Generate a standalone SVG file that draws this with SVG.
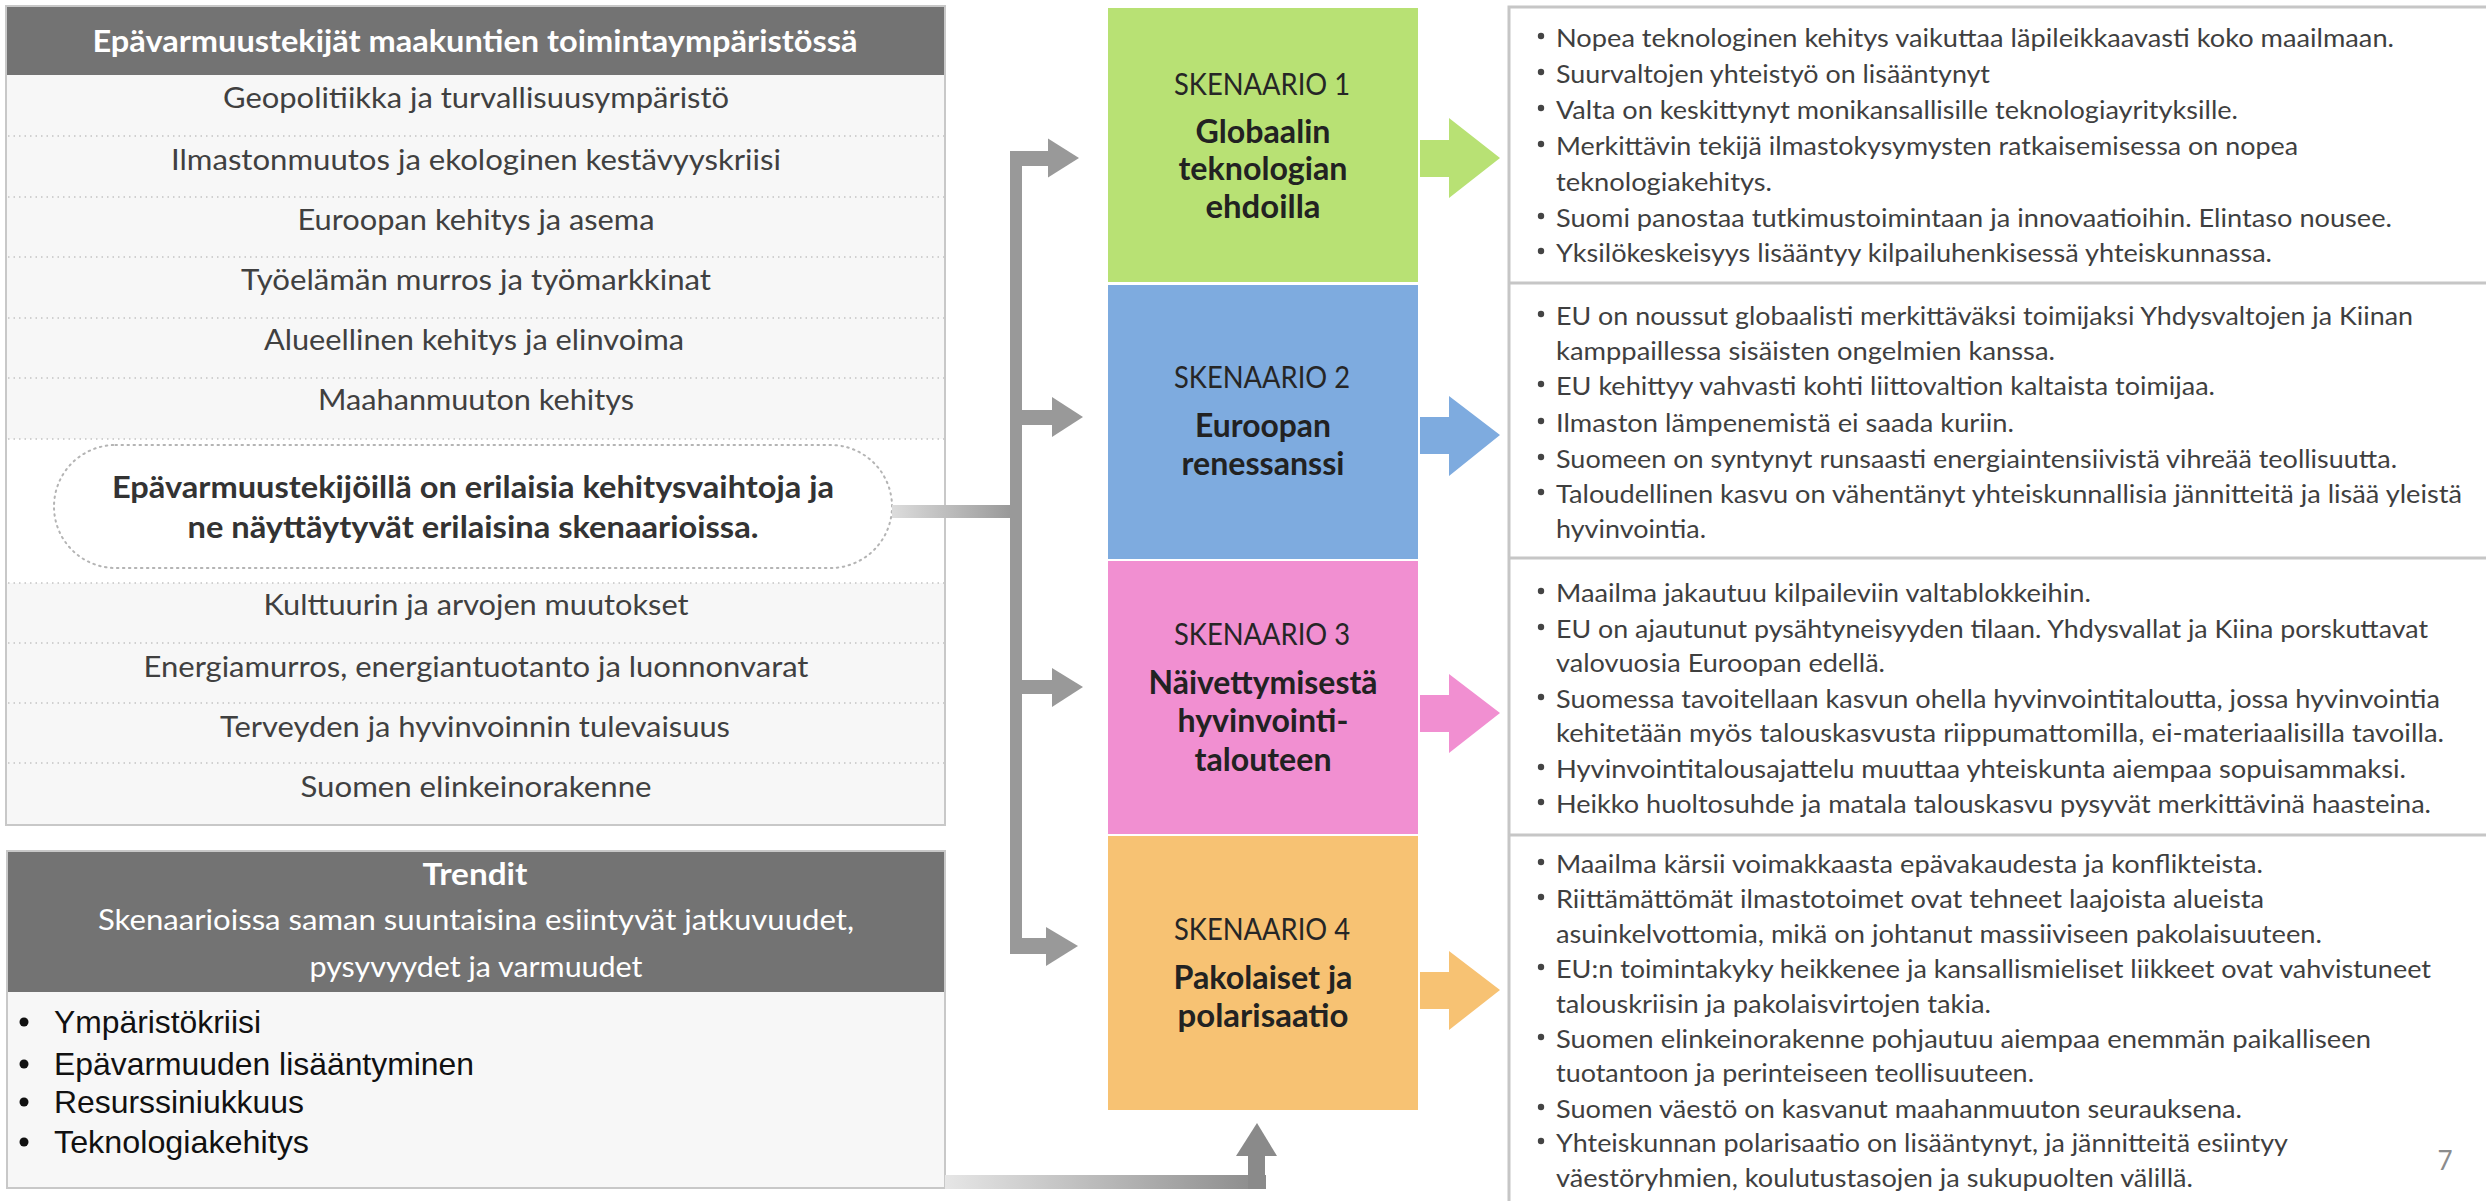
<svg xmlns="http://www.w3.org/2000/svg" width="2486" height="1201" viewBox="0 0 2486 1201">
<defs>
<linearGradient id="gPill" x1="0" y1="0" x2="1" y2="0"><stop offset="0" stop-color="#dcdcdc"/><stop offset="1" stop-color="#999999"/></linearGradient>
<linearGradient id="gTrend" x1="0" y1="0" x2="1" y2="0"><stop offset="0" stop-color="#e6e6e6"/><stop offset="1" stop-color="#8a8a8a"/></linearGradient>
<style>
.row{font-family:Lato,"Liberation Sans",sans-serif;font-size:28.5px;fill:#404040;text-anchor:middle}
.hdr{font-family:Lato,"Liberation Sans",sans-serif;font-size:30px;font-weight:bold;fill:#ffffff;text-anchor:middle}
.sub{font-family:Lato,"Liberation Sans",sans-serif;font-size:28.5px;fill:#ffffff;text-anchor:middle}
.pill{font-family:Lato,"Liberation Sans",sans-serif;font-size:30px;font-weight:bold;fill:#333333;text-anchor:middle}
.trend{font-family:"Liberation Sans",Arial,sans-serif;font-size:32px;fill:#111111}
.sk{font-family:Lato,"Liberation Sans",sans-serif;font-size:30px;fill:#262626;text-anchor:middle}
.skt{font-family:Lato,"Liberation Sans",sans-serif;font-size:33px;font-weight:bold;fill:#222222;text-anchor:middle}
.bl{font-family:Lato,"Liberation Sans",sans-serif;font-size:25.5px;fill:#3f3f3f}
.dot{stroke:#c4c4c4;stroke-width:1.5;stroke-dasharray:1.5 4}
.sep{stroke:#c6c6c6;stroke-width:3;fill:none}
.gray{fill:#999999}
.b{fill:#444444}
</style>
</defs>
<rect x="0" y="0" width="2486" height="1201" fill="#ffffff"/>

<g id="factors">
<rect x="6" y="6" width="939" height="819" fill="#f7f7f7" stroke="#c8c8c8" stroke-width="2"/>
<rect x="7" y="7" width="937" height="68" fill="#737373"/>
<text class="hdr" x="475" y="52" textLength="765" lengthAdjust="spacingAndGlyphs">Epävarmuustekijät maakuntien toimintaympäristössä</text>
<rect x="7" y="439" width="937" height="144" fill="#ffffff"/>
<line class="dot" x1="8" y1="136" x2="944" y2="136"/>
<line class="dot" x1="8" y1="197" x2="944" y2="197"/>
<line class="dot" x1="8" y1="257" x2="944" y2="257"/>
<line class="dot" x1="8" y1="318" x2="944" y2="318"/>
<line class="dot" x1="8" y1="378" x2="944" y2="378"/>
<line class="dot" x1="8" y1="439" x2="944" y2="439"/>
<line class="dot" x1="8" y1="583" x2="944" y2="583"/>
<line class="dot" x1="8" y1="643" x2="944" y2="643"/>
<line class="dot" x1="8" y1="703" x2="944" y2="703"/>
<line class="dot" x1="8" y1="763" x2="944" y2="763"/>
<text class="row" x="476" y="108" textLength="506" lengthAdjust="spacingAndGlyphs">Geopolitiikka ja turvallisuusympäristö</text>
<text class="row" x="476" y="170" textLength="610" lengthAdjust="spacingAndGlyphs">Ilmastonmuutos ja ekologinen kestävyyskriisi</text>
<text class="row" x="476" y="230" textLength="357" lengthAdjust="spacingAndGlyphs">Euroopan kehitys ja asema</text>
<text class="row" x="476" y="290" textLength="470" lengthAdjust="spacingAndGlyphs">Työelämän murros ja työmarkkinat</text>
<text class="row" x="474" y="350" textLength="420" lengthAdjust="spacingAndGlyphs">Alueellinen kehitys ja elinvoima</text>
<text class="row" x="476" y="410" textLength="316" lengthAdjust="spacingAndGlyphs">Maahanmuuton kehitys</text>
<text class="row" x="476" y="615" textLength="425" lengthAdjust="spacingAndGlyphs">Kulttuurin ja arvojen muutokset</text>
<text class="row" x="476" y="677" textLength="665" lengthAdjust="spacingAndGlyphs">Energiamurros, energiantuotanto ja luonnonvarat</text>
<text class="row" x="475" y="737" textLength="510" lengthAdjust="spacingAndGlyphs">Terveyden ja hyvinvoinnin tulevaisuus</text>
<text class="row" x="476" y="797" textLength="351" lengthAdjust="spacingAndGlyphs">Suomen elinkeinorakenne</text>
</g>

<g id="pill">
<rect x="54" y="445" width="838" height="123" rx="61.5" ry="61.5" fill="#ffffff" stroke="#b4b4b4" stroke-width="2" stroke-dasharray="1.5 4.5" stroke-linecap="round"/>
<text class="pill" x="473" y="498" textLength="722" lengthAdjust="spacingAndGlyphs">Epävarmuustekijöillä on erilaisia kehitysvaihtoja ja</text>
<text class="pill" x="473" y="538" textLength="571" lengthAdjust="spacingAndGlyphs">ne näyttäytyvät erilaisina skenaarioissa.</text>
</g>

<g id="trends">
<rect x="7" y="851" width="938" height="337" fill="#f7f7f7" stroke="#c8c8c8" stroke-width="2"/>
<rect x="8" y="852" width="936" height="140" fill="#737373"/>
<text class="hdr" x="475" y="885" textLength="105" lengthAdjust="spacingAndGlyphs">Trendit</text>
<text class="sub" x="476" y="930" textLength="756" lengthAdjust="spacingAndGlyphs">Skenaarioissa saman suuntaisina esiintyvät jatkuvuudet,</text>
<text class="sub" x="476" y="977" textLength="333" lengthAdjust="spacingAndGlyphs">pysyvyydet ja varmuudet</text>
<circle cx="24" cy="1022" r="4.5" fill="#111111"/>
<circle cx="24" cy="1064" r="4.5" fill="#111111"/>
<circle cx="24" cy="1102" r="4.5" fill="#111111"/>
<circle cx="24" cy="1142" r="4.5" fill="#111111"/>
<text class="trend" x="54" y="1033" textLength="207" lengthAdjust="spacingAndGlyphs">Ympäristökriisi</text>
<text class="trend" x="54" y="1075" textLength="420" lengthAdjust="spacingAndGlyphs">Epävarmuuden lisääntyminen</text>
<text class="trend" x="54" y="1113" textLength="250" lengthAdjust="spacingAndGlyphs">Resurssiniukkuus</text>
<text class="trend" x="54" y="1153" textLength="255" lengthAdjust="spacingAndGlyphs">Teknologiakehitys</text>
</g>

<g id="connectors">
<rect x="892" y="505" width="119" height="13" fill="url(#gPill)"/>
<rect class="gray" x="1010" y="151" width="12" height="803"/>
<rect class="gray" x="1010" y="151" width="39" height="15"/>
<polygon class="gray" points="1048,138.5 1079,158 1048,177.5"/>
<rect class="gray" x="1021" y="410" width="32" height="15"/>
<polygon class="gray" points="1052,397 1083,417 1052,437"/>
<rect class="gray" x="1021" y="680" width="32" height="14"/>
<polygon class="gray" points="1052,668 1083,687 1052,707"/>
<rect class="gray" x="1010" y="938" width="37" height="16"/>
<polygon class="gray" points="1046,927 1078,946 1046,966"/>
<rect x="945" y="1175" width="321" height="14" fill="url(#gTrend)"/>
<rect x="1248" y="1155" width="17" height="34" fill="#8a8a8a"/>
<polygon points="1236,1156 1257,1123 1277,1156" fill="#8a8a8a"/>
<polygon points="1420,140 1449,140 1449,118 1500,158 1449,198 1449,177 1420,177" fill="#b8e174"/>
<polygon points="1420,417 1449,417 1449,396 1500,435 1449,476 1449,454 1420,454" fill="#7eabdf"/>
<polygon points="1420,695 1449,695 1449,674 1500,713 1449,753 1449,732 1420,732" fill="#f18fd1"/>
<polygon points="1420,972 1449,972 1449,951 1500,990 1449,1030 1449,1009 1420,1009" fill="#f7c273"/>
</g>

<g id="scenario1">
<rect x="1108" y="8" width="310" height="274" fill="#b8e174"/>
<text class="sk" x="1262" y="95" textLength="176" lengthAdjust="spacingAndGlyphs">SKENAARIO 1</text>
<text class="skt" x="1263" y="143" textLength="135" lengthAdjust="spacingAndGlyphs">Globaalin</text>
<text class="skt" x="1263" y="180" textLength="169" lengthAdjust="spacingAndGlyphs">teknologian</text>
<text class="skt" x="1263" y="218" textLength="115" lengthAdjust="spacingAndGlyphs">ehdoilla</text>
</g>
<g id="scenario2">
<rect x="1108" y="285" width="310" height="274" fill="#7eabdf"/>
<text class="sk" x="1262" y="388" textLength="176" lengthAdjust="spacingAndGlyphs">SKENAARIO 2</text>
<text class="skt" x="1263" y="437" textLength="136" lengthAdjust="spacingAndGlyphs">Euroopan</text>
<text class="skt" x="1263" y="475" textLength="163" lengthAdjust="spacingAndGlyphs">renessanssi</text>
</g>
<g id="scenario3">
<rect x="1108" y="561" width="310" height="273" fill="#f18fd1"/>
<text class="sk" x="1262" y="645" textLength="176" lengthAdjust="spacingAndGlyphs">SKENAARIO 3</text>
<text class="skt" x="1263" y="694" textLength="229" lengthAdjust="spacingAndGlyphs">Näivettymisestä</text>
<text class="skt" x="1263" y="732" textLength="171" lengthAdjust="spacingAndGlyphs">hyvinvointi-</text>
<text class="skt" x="1263" y="771" textLength="137" lengthAdjust="spacingAndGlyphs">talouteen</text>
</g>
<g id="scenario4">
<rect x="1108" y="836" width="310" height="274" fill="#f7c273"/>
<text class="sk" x="1262" y="940" textLength="176" lengthAdjust="spacingAndGlyphs">SKENAARIO 4</text>
<text class="skt" x="1263" y="989" textLength="179" lengthAdjust="spacingAndGlyphs">Pakolaiset ja</text>
<text class="skt" x="1263" y="1027" textLength="171" lengthAdjust="spacingAndGlyphs">polarisaatio</text>
</g>

<g id="descriptions">
<path class="sep" d="M1509,1201 V7 H2486 M1509,283 H2486 M1509,558 H2486 M1509,835 H2486"/>
</g>

<g id="desc1">
<circle class="b" cx="1541" cy="36" r="3.2"/>
<circle class="b" cx="1541" cy="72" r="3.2"/>
<circle class="b" cx="1541" cy="108" r="3.2"/>
<circle class="b" cx="1541" cy="144" r="3.2"/>
<circle class="b" cx="1541" cy="216" r="3.2"/>
<circle class="b" cx="1541" cy="251" r="3.2"/>
<text class="bl" x="1556" y="47" textLength="838" lengthAdjust="spacingAndGlyphs">Nopea teknologinen kehitys vaikuttaa läpileikkaavasti koko maailmaan.</text>
<text class="bl" x="1556" y="83" textLength="434" lengthAdjust="spacingAndGlyphs">Suurvaltojen yhteistyö on lisääntynyt</text>
<text class="bl" x="1556" y="119" textLength="682" lengthAdjust="spacingAndGlyphs">Valta on keskittynyt monikansallisille teknologiayrityksille.</text>
<text class="bl" x="1556" y="155" textLength="742" lengthAdjust="spacingAndGlyphs">Merkittävin tekijä ilmastokysymysten ratkaisemisessa on nopea</text>
<text class="bl" x="1556" y="191" textLength="216" lengthAdjust="spacingAndGlyphs">teknologiakehitys.</text>
<text class="bl" x="1556" y="227" textLength="836" lengthAdjust="spacingAndGlyphs">Suomi panostaa tutkimustoimintaan ja innovaatioihin. Elintaso nousee.</text>
<text class="bl" x="1556" y="262" textLength="716" lengthAdjust="spacingAndGlyphs">Yksilökeskeisyys lisääntyy kilpailuhenkisessä yhteiskunnassa.</text>
</g>

<g id="desc2">
<circle class="b" cx="1541" cy="314" r="3.2"/>
<circle class="b" cx="1541" cy="384" r="3.2"/>
<circle class="b" cx="1541" cy="421" r="3.2"/>
<circle class="b" cx="1541" cy="457" r="3.2"/>
<circle class="b" cx="1541" cy="492" r="3.2"/>
<text class="bl" x="1556" y="325" textLength="857" lengthAdjust="spacingAndGlyphs">EU on noussut globaalisti merkittäväksi toimijaksi Yhdysvaltojen ja Kiinan</text>
<text class="bl" x="1556" y="360" textLength="499" lengthAdjust="spacingAndGlyphs">kamppaillessa sisäisten ongelmien kanssa.</text>
<text class="bl" x="1556" y="395" textLength="659" lengthAdjust="spacingAndGlyphs">EU kehittyy vahvasti kohti liittovaltion kaltaista toimijaa.</text>
<text class="bl" x="1556" y="432" textLength="458" lengthAdjust="spacingAndGlyphs">Ilmaston lämpenemistä ei saada kuriin.</text>
<text class="bl" x="1556" y="468" textLength="841" lengthAdjust="spacingAndGlyphs">Suomeen on syntynyt runsaasti energiaintensiivistä vihreää teollisuutta.</text>
<text class="bl" x="1556" y="503" textLength="906" lengthAdjust="spacingAndGlyphs">Taloudellinen kasvu on vähentänyt yhteiskunnallisia jännitteitä ja lisää yleistä</text>
<text class="bl" x="1556" y="538" textLength="150" lengthAdjust="spacingAndGlyphs">hyvinvointia.</text>
</g>

<g id="desc3">
<circle class="b" cx="1541" cy="591" r="3.2"/>
<circle class="b" cx="1541" cy="627" r="3.2"/>
<circle class="b" cx="1541" cy="697" r="3.2"/>
<circle class="b" cx="1541" cy="767" r="3.2"/>
<circle class="b" cx="1541" cy="802" r="3.2"/>
<text class="bl" x="1556" y="602" textLength="535" lengthAdjust="spacingAndGlyphs">Maailma jakautuu kilpaileviin valtablokkeihin.</text>
<text class="bl" x="1556" y="638" textLength="872" lengthAdjust="spacingAndGlyphs">EU on ajautunut pysähtyneisyyden tilaan. Yhdysvallat ja Kiina porskuttavat</text>
<text class="bl" x="1556" y="672" textLength="329" lengthAdjust="spacingAndGlyphs">valovuosia Euroopan edellä.</text>
<text class="bl" x="1556" y="708" textLength="884" lengthAdjust="spacingAndGlyphs">Suomessa tavoitellaan kasvun ohella hyvinvointitaloutta, jossa hyvinvointia</text>
<text class="bl" x="1556" y="742" textLength="888" lengthAdjust="spacingAndGlyphs">kehitetään myös talouskasvusta riippumattomilla, ei-materiaalisilla tavoilla.</text>
<text class="bl" x="1556" y="778" textLength="850" lengthAdjust="spacingAndGlyphs">Hyvinvointitalousajattelu muuttaa yhteiskunta aiempaa sopuisammaksi.</text>
<text class="bl" x="1556" y="813" textLength="875" lengthAdjust="spacingAndGlyphs">Heikko huoltosuhde ja matala talouskasvu pysyvät merkittävinä haasteina.</text>
</g>

<g id="desc4">
<circle class="b" cx="1541" cy="862" r="3.2"/>
<circle class="b" cx="1541" cy="897" r="3.2"/>
<circle class="b" cx="1541" cy="967" r="3.2"/>
<circle class="b" cx="1541" cy="1037" r="3.2"/>
<circle class="b" cx="1541" cy="1107" r="3.2"/>
<circle class="b" cx="1541" cy="1141" r="3.2"/>
<text class="bl" x="1556" y="873" textLength="707" lengthAdjust="spacingAndGlyphs">Maailma kärsii voimakkaasta epävakaudesta ja konflikteista.</text>
<text class="bl" x="1556" y="908" textLength="708" lengthAdjust="spacingAndGlyphs">Riittämättömät ilmastotoimet ovat tehneet laajoista alueista</text>
<text class="bl" x="1556" y="943" textLength="766" lengthAdjust="spacingAndGlyphs">asuinkelvottomia, mikä on johtanut massiiviseen pakolaisuuteen.</text>
<text class="bl" x="1556" y="978" textLength="875" lengthAdjust="spacingAndGlyphs">EU:n toimintakyky heikkenee ja kansallismieliset liikkeet ovat vahvistuneet</text>
<text class="bl" x="1556" y="1013" textLength="435" lengthAdjust="spacingAndGlyphs">talouskriisin ja pakolaisvirtojen takia.</text>
<text class="bl" x="1556" y="1048" textLength="815" lengthAdjust="spacingAndGlyphs">Suomen elinkeinorakenne pohjautuu aiempaa enemmän paikalliseen</text>
<text class="bl" x="1556" y="1082" textLength="478" lengthAdjust="spacingAndGlyphs">tuotantoon ja perinteiseen teollisuuteen.</text>
<text class="bl" x="1556" y="1118" textLength="686" lengthAdjust="spacingAndGlyphs">Suomen väestö on kasvanut maahanmuuton seurauksena.</text>
<text class="bl" x="1556" y="1152" textLength="732" lengthAdjust="spacingAndGlyphs">Yhteiskunnan polarisaatio on lisääntynyt, ja jännitteitä esiintyy</text>
<text class="bl" x="1556" y="1187" textLength="637" lengthAdjust="spacingAndGlyphs">väestöryhmien, koulutustasojen ja sukupuolten välillä.</text>
</g>

<text x="2445" y="1170" font-family="Lato,'Liberation Sans',sans-serif" font-size="26" fill="#8c8c8c" text-anchor="middle">7</text>
</svg>
